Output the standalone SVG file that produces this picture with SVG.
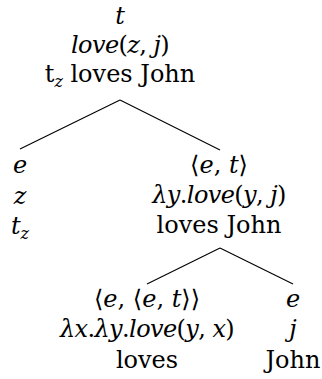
<svg xmlns="http://www.w3.org/2000/svg" width="322" height="379" viewBox="0 0 322 379">
<style>
text{font-family:"DejaVu Serif","Liberation Serif",serif;font-size:24px;fill:#000;text-anchor:middle}
.i{font-style:italic}
.m{letter-spacing:-0.6px}
.sub{font-size:16px;font-style:italic}
.edge{stroke:#000;stroke-width:1.1;fill:none}
</style>
<rect width="322" height="379" fill="#fff"/>
<g id="connectors">
<line class="edge" x1="120" y1="100" x2="20" y2="149"/>
<line class="edge" x1="120" y1="100" x2="220" y2="150"/>
<line class="edge" x1="220" y1="248" x2="147" y2="284"/>
<line class="edge" x1="220" y1="248" x2="293" y2="284"/>
</g>
<g id="root">
<text x="120" y="24" class="i">t</text>
<text x="120" y="53" class="m"><tspan class="i">love</tspan>(<tspan class="i">z</tspan>, <tspan class="i">j</tspan>)</text>
<text x="120" y="82">t<tspan class="sub" dy="5">z</tspan><tspan dy="-5"> loves John</tspan></text>
</g>
<g id="subject">
<text x="20" y="173" class="i">e</text>
<text x="20" y="204" class="i">z</text>
<text x="20" y="234"><tspan class="i">t</tspan><tspan class="sub" dy="5">z</tspan></text>
</g>
<g id="vp">
<text x="219" y="173">⟨<tspan class="i">e</tspan>, <tspan class="i">t</tspan>⟩</text>
<text x="219" y="203" class="m"><tspan class="i">λy</tspan>.<tspan class="i">love</tspan>(<tspan class="i">y</tspan>, <tspan class="i">j</tspan>)</text>
<text x="219" y="233">loves John</text>
</g>
<g id="verb">
<text x="147" y="307">⟨<tspan class="i">e</tspan>, ⟨<tspan class="i">e</tspan>, <tspan class="i">t</tspan>⟩⟩</text>
<text x="147" y="337" class="m"><tspan class="i">λx</tspan>.<tspan class="i">λy</tspan>.<tspan class="i">love</tspan>(<tspan class="i">y</tspan>, <tspan class="i">x</tspan>)</text>
<text x="147" y="368">loves</text>
</g>
<g id="object">
<text x="293" y="307" class="i">e</text>
<text x="293" y="337" class="i">j</text>
<text x="293" y="368">John</text>
</g>
</svg>
